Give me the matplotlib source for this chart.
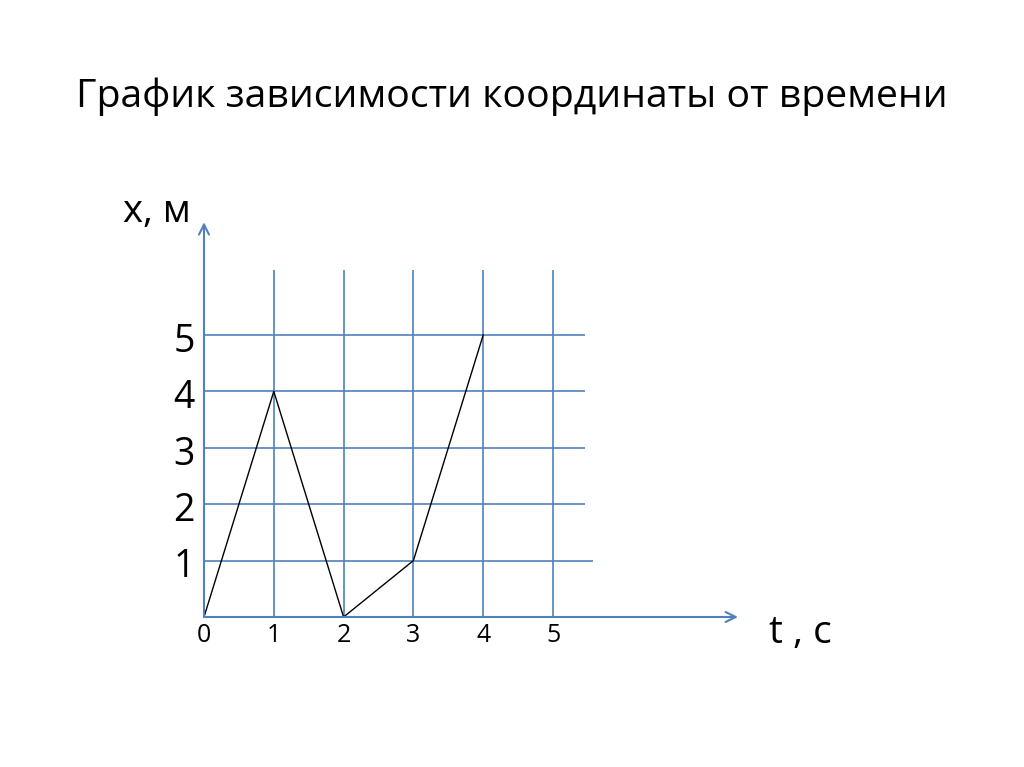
import matplotlib
matplotlib.use("Agg")
import matplotlib.pyplot as plt

# --- data ---
t_points = [0, 1, 2, 3, 4]          # t, c
x_points = [0, 4, 0, 1, 5]          # x, м
t_ticks = [0, 1, 2, 3, 4, 5]
x_ticks = [1, 2, 3, 4, 5]

TITLE = "График зависимости координаты от времени"
BLUE = "#4F81BD"
FONT = ["Open Sans", "DejaVu Sans"]

plt.rcParams['font.family'] = FONT

fig = plt.figure(figsize=(10.24, 7.67), dpi=100)

# axes placed so that t=0..5 / x=0..5 land on the slide's grid
ax = fig.add_axes([204 / 1024, 150 / 767, 7.8 * 69.8 / 1024, 7.2 * 56.4 / 767])
ax.set_xlim(0, 7.8)
ax.set_ylim(0, 7.2)
ax.axis('off')

# grid
ax.vlines(t_ticks[1:], 0, 6.15, color=BLUE, lw=1.2, clip_on=False)
for v in x_ticks:
    right = 5.57 if v == 1 else 5.46
    ax.hlines(v, 0, right, color=BLUE, lw=1.2, clip_on=False)

# axes with arrows
arrow = dict(arrowstyle='->', color=BLUE, lw=1.5, mutation_scale=18, shrinkA=0, shrinkB=0)
ax.annotate('', xy=(7.65, 0), xytext=(0, 0), arrowprops=arrow, annotation_clip=False)
ax.annotate('', xy=(0, 7.0), xytext=(0, 0), arrowprops=arrow, annotation_clip=False)

# the x(t) line
ax.plot(t_points, x_points, color='black', lw=1.0, clip_on=False)

# tick labels
for t in t_ticks:
    ax.text(t, -0.33, str(t), ha='center', va='center', fontsize=18, clip_on=False)
for v in x_ticks:
    ax.text(-0.13, v - 0.12, str(v), ha='right', va='center', fontsize=27, clip_on=False)

# axis names and title
fig.text(157 / 1024, 1 - 222 / 767, "x, м", ha='center', va='baseline', fontsize=27.5)
fig.text(800 / 1024, 1 - 643 / 767, "t , c", ha='center', va='baseline', fontsize=28)
fig.text(0.5, 1 - 97 / 767, TITLE, ha='center', va='center', fontsize=28.3)

fig.savefig("out.png", dpi=100)
